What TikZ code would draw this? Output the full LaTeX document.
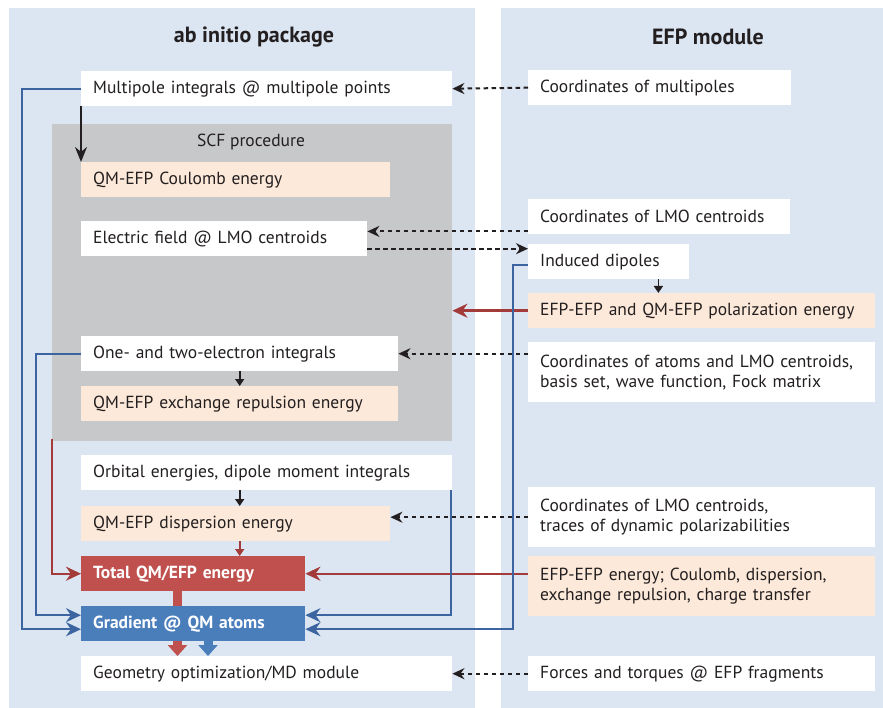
\documentclass[tikz,border=0pt]{standalone}
\usepackage{fontspec}
\setmainfont{PT Sans}
\usetikzlibrary{positioning,arrows.meta}

\definecolor{panelblue}{HTML}{DCE6F2}
\definecolor{scfgray}{HTML}{C7C8CA}
\definecolor{peach}{HTML}{FDE9D9}
\definecolor{totred}{HTML}{C0504D}
\definecolor{gradblue}{HTML}{4A7EBB}
\definecolor{lineblue}{HTML}{3B64A0}
\definecolor{linered}{HTML}{A33B3B}
\definecolor{inkblack}{HTML}{231F20}

\begin{document}
\begin{tikzpicture}[x=1pt,y=-1pt]
  \tikzstyle{every node}=[font=\fontsize{17.5}{20}\selectfont, text=inkblack]
  \tikzstyle{box}=[anchor=north west, fill=white, inner xsep=12pt, inner ysep=0pt, minimum height=35pt, align=left]
  \tikzstyle{tallbox}=[box, minimum height=60pt]
  \tikzstyle{energy}=[fill=peach]
  \tikzstyle{result}=[font=\fontsize{17.5}{20}\selectfont\bfseries, text=white]
  \tikzstyle{title}=[font=\fontsize{22}{26}\selectfont\bfseries]
  \tikzstyle{dasharr}=[inkblack, line width=2pt, dash pattern=on 4.5pt off 3.5pt, -{Stealth[length=12pt,width=11pt]}]
  \tikzstyle{smallarr}=[inkblack, line width=1.6pt, -{Triangle[length=7pt,width=9pt]}]
  \tikzstyle{redarr}=[linered, line width=2.4pt, -{Stealth[length=15pt,width=14pt]}]
  \tikzstyle{bluearr}=[lineblue, line width=2pt, -{Stealth[length=15pt,width=14pt]}]
  \tikzstyle{fat}=[line width=9pt, -{Triangle[length=11pt,width=19pt]}]

  % panels
  \useasboundingbox (0,0) rectangle (883,708);
  \fill[white] (0,0) rectangle (883,708);
  \fill[panelblue] (9,8) rectangle (475,708);
  \fill[panelblue] (501,8) rectangle (883,708);
  \node[title] (abtitle) at (254,37) {ab initio package};
  \node[title] (efptitle) at (708,37) {EFP module};

  % ab initio side
  \node[fill=scfgray, anchor=north west, minimum width=400pt, minimum height=317pt, inner sep=0pt] (scf) at (52,124) {};
  \node (scflbl) at (251,142) {SCF procedure};
  \node[box, text width=347pt] (mult) at (81,71) {Multipole integrals @ multipole points};
  \node[box, energy, text width=285pt] (coul) at (81,162) {QM-EFP Coulomb energy};
  \node[box, text width=262pt] (efield) at (81,221) {Electric field @ LMO centroids};
  \node[box, text width=293pt] (onetwo) at (81,336) {One- and two-electron integrals};
  \node[box, energy, text width=293pt] (exch) at (81,386) {QM-EFP exchange repulsion energy};
  \node[box, text width=347pt] (orb) at (81,455) {Orbital energies, dipole moment integrals};
  \node[box, energy, text width=285pt] (disp) at (81,506) {QM-EFP dispersion energy};
  \node[box, result, fill=totred, text width=200pt] (total) at (81,556) {Total QM/EFP energy};
  \node[box, result, fill=gradblue, text width=200pt] (grad) at (81,606) {Gradient @ QM atoms};
  \node[box, text width=347pt] (geom) at (81,656) {Geometry optimization/MD module};

  % EFP side
  \node[box, text width=239pt] (cmult) at (528,70) {Coordinates of multipoles};
  \node[box, text width=238pt] (clmo) at (528,199) {Coordinates of LMO centroids};
  \node[box, text width=137pt] (induced) at (528,244) {Induced dipoles};
  \node[box, energy, text width=323pt] (polar) at (528,293) {EFP-EFP and QM-EFP polarization energy};
  \node[tallbox, text width=323pt] (catoms) at (528,342) {Coordinates of atoms and LMO centroids,\\basis set, wave function, Fock matrix};
  \node[tallbox, text width=323pt] (ctraces) at (528,487) {Coordinates of LMO centroids,\\traces of dynamic polarizabilities};
  \node[tallbox, energy, text width=323pt] (efpen) at (528,556) {EFP-EFP energy; Coulomb, dispersion,\\exchange repulsion, charge transfer};
  \node[box, text width=323pt] (forces) at (528,656) {Forces and torques @ EFP fragments};

  % data passed from EFP
  \draw[dasharr] (cmult.west) -- (mult.east);
  \draw[dasharr] ([yshift=3pt]clmo.south west) -- ([yshift=3pt]efield.east |- clmo.south west);
  \draw[dasharr] ([yshift=-10pt]efield.east) -- ([yshift=-10pt]induced.west |- efield.east);
  \draw[dasharr] (catoms.west |- onetwo.east) -- (onetwo.east);
  \draw[dasharr] (ctraces.west) -- (ctraces.west -| disp.east);
  \draw[dasharr] (forces.west) -- (geom.east);

  % inside each side
  \draw[inkblack, line width=1.8pt, -{Stealth[length=15pt,width=12pt]}] (mult.south west) -- (coul.north west);
  \draw[smallarr] ([xshift=-31pt]induced.south east) -- ([xshift=-31pt]induced.south east |- polar.north);
  \draw[smallarr] (onetwo.south) -- (exch.north);
  \draw[smallarr] (orb.south -| onetwo.south) -- (disp.north -| onetwo.south);
  \draw[smallarr, linered] (disp.south -| onetwo.south) -- (total.north -| onetwo.south);

  % energies
  \draw[redarr] (polar.west) -- (polar.west -| scf.east);
  \draw[redarr] (efpen.west |- total.east) -- (total.east);
  \draw[redarr] ([yshift=2pt]scf.south west) |- (total.west);

  % gradients
  \draw[bluearr] (mult.west) -- ++(-59pt,0) |- ([yshift=-5.5pt]grad.west);
  \draw[bluearr] (onetwo.west) -- ++(-45pt,0) |- ([yshift=8.5pt]grad.west);
  \draw[bluearr] ([xshift=-1pt]orb.south east) |- ([yshift=8.5pt]grad.east);
  \draw[bluearr] ([yshift=-3pt]induced.west) -- ++(-15pt,0) |- ([yshift=-5.5pt]grad.east);

  % to geometry module
  \draw[totred, line width=9pt] ([xshift=96.5pt]total.south west) -- ([xshift=96.5pt]grad.north west);
  \draw[fat, totred] ([xshift=96.5pt]grad.south west) -- ([xshift=96.5pt]geom.north west);
  \draw[fat, gradblue] ([xshift=127pt]grad.south west) -- ([xshift=127pt]geom.north west);
\end{tikzpicture}
\end{document}
